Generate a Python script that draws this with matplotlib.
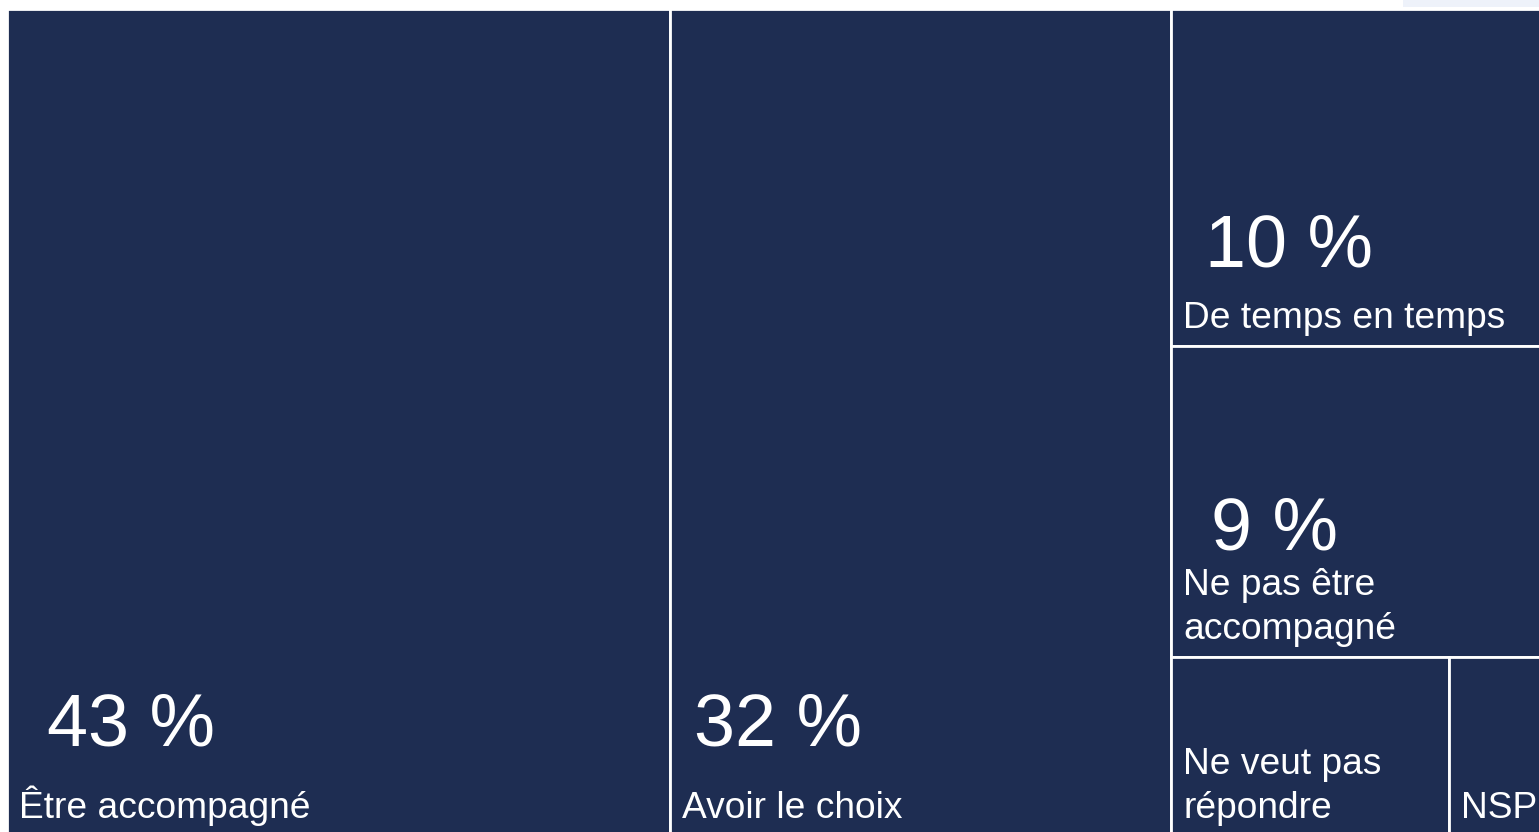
import matplotlib
matplotlib.use("Agg")
import matplotlib.pyplot as plt
from matplotlib.patches import Rectangle

# ---- data ----
categories = ["Être accompagné", "Avoir le choix", "De temps en temps",
              "Ne pas être\naccompagné", "Ne veut pas\nrépondre", "NSP"]
values = [43.0, 32.5, 10.0, 9.2, 3.9, 1.4]
show_pct = [True, True, True, True, False, False]

# ---- style / layout ----
NAVY = "#1e2d52"
FONT = ["Liberation Sans", "DejaVu Sans"]
PCT_SIZE = 53
LABEL_SIZE = 26.7
# offsets of the percentage text (dx from cell left, dy of baseline above cell bottom), pixels
pct_offsets = [(40, 91), (24, 91), (34, 80), (40, 108)]
LABEL_DX, LABEL_BOTTOM = 12, 10.5

W, H = 1539, 832
fig = plt.figure(figsize=(W / 100, H / 100), dpi=100)
ax = fig.add_axes([0, 0, 1, 1])
ax.set_xlim(0, W)
ax.set_ylim(H, 0)
ax.axis("off")

# light strip at the top-right corner
ax.add_patch(Rectangle((1403, 0), 136, 6.5, facecolor="#eef2fa", edgecolor="none"))

# treemap frame (pixel units)
X0, Y0, TW, TH = 7, 8.5, 1542, 828
total = sum(values)
rects = []
x = X0
for v in values[:2]:
    w = v / total * TW
    rects.append((x, Y0, w, TH))
    x += w
colw = TW - (x - X0)
rest = values[2:]
rs = sum(rest)
y = Y0
for v in rest[:2]:
    h = v / rs * TH
    rects.append((x, y, colw, h))
    y += h
hb = TH - (y - Y0)
bottom_vals = rest[2:]
bs = sum(bottom_vals)
xx = x
for v in bottom_vals:
    w = v / bs * colw
    rects.append((xx, y, w, hb))
    xx += w

for i, ((rx, ry, rw, rh), lab, v) in enumerate(zip(rects, categories, values)):
    ax.add_patch(Rectangle((rx, ry), rw, rh, facecolor=NAVY, edgecolor="white",
                           linewidth=2.0))
    ax.text(rx + LABEL_DX, ry + rh - LABEL_BOTTOM, lab, color="white",
            fontsize=LABEL_SIZE, family=FONT, ha="left", va="bottom",
            linespacing=1.33)
    if show_pct[i]:
        dx, dy = pct_offsets[i]
        ax.text(rx + dx, ry + rh - dy, f"{round(v)} %", color="white",
                fontsize=PCT_SIZE, family=FONT, ha="left", va="baseline")

fig.savefig("out.png", dpi=100)
